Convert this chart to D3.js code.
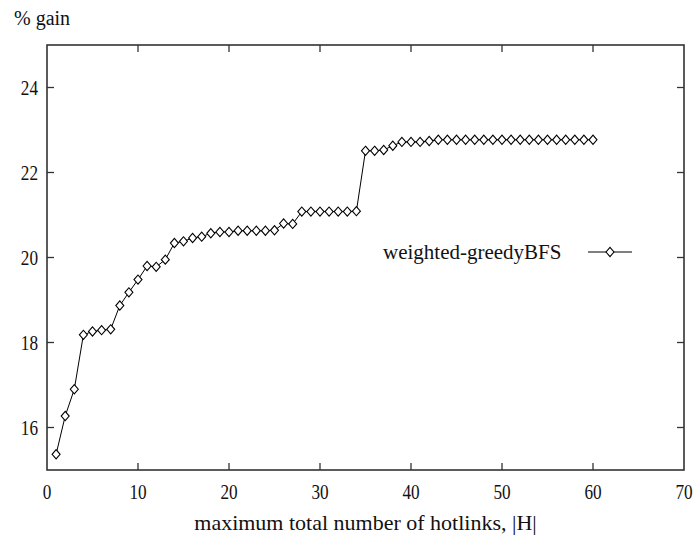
<!DOCTYPE html>
<html><head><meta charset="utf-8"><script src="https://cdn.jsdelivr.net/npm/d3@7"></script></head>
<body style="margin:0">
<svg id="chart" width="696" height="539"></svg>
<script>
// Maximum total number of hotlinks |H|
const hotlinks = d3.range(1, 61);
// % gain of weighted-greedyBFS for each |H|
const gain = [
  15.37, 16.27, 16.90, 18.18, 18.26, 18.29, 18.31, 18.87, 19.18, 19.48,
  19.80, 19.78, 19.95, 20.34, 20.38, 20.46, 20.49, 20.57, 20.60, 20.60,
  20.63, 20.63, 20.63, 20.63, 20.64, 20.80, 20.79, 21.08, 21.08, 21.08,
  21.08, 21.08, 21.08, 21.09, 22.51, 22.51, 22.53, 22.63, 22.72, 22.72,
  22.72, 22.74, 22.77, 22.77, 22.77, 22.77, 22.77, 22.77, 22.77, 22.77,
  22.77, 22.77, 22.77, 22.77, 22.77, 22.77, 22.77, 22.77, 22.77, 22.77
];
const xTicks = [0, 10, 20, 30, 40, 50, 60, 70];
const yTicks = [16, 18, 20, 22, 24];
const seriesName = "weighted-greedyBFS";

const svg = d3.select("#chart");
const plotL = 47, plotR = 684, plotT = 45, plotB = 470;

const x = d3.scaleLinear().domain([0, 70]).range([plotL, plotR]);
const y = d3.scaleLinear().domain([15, 25]).range([plotB, plotT]);

const frameColor = "#333";
const tickLen = 7;

// inward ticks on all four sides
const innerX = xTicks.filter(t => t > 0 && t < 70);
svg.append("g").selectAll("line").data(innerX).join("line")
  .attr("x1", d => x(d)).attr("x2", d => x(d))
  .attr("y1", plotB).attr("y2", plotB - tickLen)
  .attr("stroke", frameColor).attr("stroke-width", 1.3);
svg.append("g").selectAll("line").data(innerX).join("line")
  .attr("x1", d => x(d)).attr("x2", d => x(d))
  .attr("y1", plotT).attr("y2", plotT + tickLen)
  .attr("stroke", frameColor).attr("stroke-width", 1.3);
svg.append("g").selectAll("line").data(yTicks).join("line")
  .attr("x1", plotL).attr("x2", plotL + tickLen)
  .attr("y1", d => y(d)).attr("y2", d => y(d))
  .attr("stroke", frameColor).attr("stroke-width", 1.3);
svg.append("g").selectAll("line").data(yTicks).join("line")
  .attr("x1", plotR).attr("x2", plotR - tickLen)
  .attr("y1", d => y(d)).attr("y2", d => y(d))
  .attr("stroke", frameColor).attr("stroke-width", 1.3);

// frame
svg.append("rect")
  .attr("x", plotL).attr("y", plotT)
  .attr("width", plotR - plotL).attr("height", plotB - plotT)
  .attr("fill", "none").attr("stroke", frameColor).attr("stroke-width", 1.6);

// every text label in the chart: serif face
function label(sel) {
  return sel.style("font-family", "'Liberation Serif'").attr("fill", "#111");
}

// tick labels: tall, slightly condensed numerals
svg.selectAll("text.xt").data(xTicks).join("text")
  .attr("class", "xt")
  .attr("transform", d => `translate(${x(d)},499) scale(0.86,1)`)
  .attr("text-anchor", "middle").attr("font-size", 20)
  .call(label)
  .text(d => d);
svg.selectAll("text.yt").data(yTicks).join("text")
  .attr("class", "yt")
  .attr("transform", d => `translate(38,${y(d) + 7}) scale(0.86,1)`)
  .attr("text-anchor", "end").attr("font-size", 20)
  .call(label)
  .text(d => d);

// axis titles
svg.append("text").attr("x", 14).attr("y", 25)
  .attr("font-size", 20).call(label)
  .text("% gain");
svg.append("text").attr("x", (plotL + plotR) / 2).attr("y", 530)
  .attr("text-anchor", "middle").attr("font-size", 22).call(label)
  .text("maximum total number of hotlinks, |H|");

// series
const pts = hotlinks.map((h, i) => [h, gain[i]]);
const line = d3.line().x(d => x(d[0])).y(d => y(d[1]));
svg.append("path").datum(pts)
  .attr("d", line).attr("fill", "none")
  .attr("stroke", "#000").attr("stroke-width", 1);

const diamond = "M0,-4.6L4,0L0,4.6L-4,0Z";
svg.append("g").selectAll("path").data(pts).join("path")
  .attr("d", diamond)
  .attr("transform", d => `translate(${x(d[0])},${y(d[1])})`)
  .attr("fill", "#fff").attr("stroke", "#000").attr("stroke-width", 1.1);

// legend
svg.append("text").attr("x", 383).attr("y", 259)
  .attr("font-size", 21).call(label)
  .text(seriesName);
svg.append("line").attr("x1", 588).attr("x2", 632)
  .attr("y1", 252).attr("y2", 252)
  .attr("stroke", "#000").attr("stroke-width", 1);
svg.append("path").attr("d", diamond)
  .attr("transform", "translate(610,252)")
  .attr("fill", "#fff").attr("stroke", "#000").attr("stroke-width", 1.1);
</script></body></html>
